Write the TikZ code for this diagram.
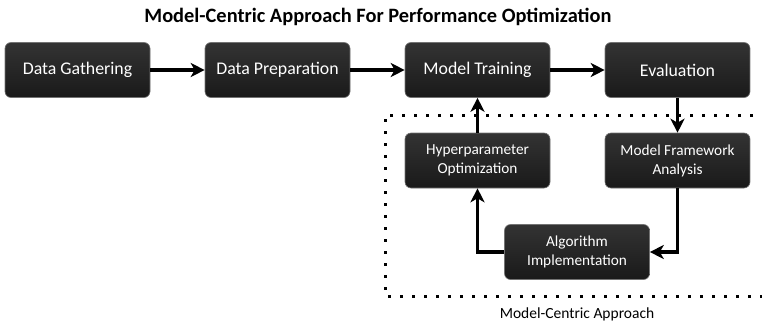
\documentclass[tikz,border=0pt]{standalone}
\usepackage{fontspec}
\setmainfont{Carlito}
\usetikzlibrary{arrows.meta}
\begin{document}
\begin{tikzpicture}[x=1pt,y=-1pt,
  stage/.style={rounded corners=6pt, draw=black!55, line width=0.6pt,
    top color=black!80, bottom color=black!90, text=white,
    minimum width=145pt, minimum height=55pt, inner sep=0pt,
    align=center, font=\fontsize{17.8}{20}\selectfont},
  substage/.style={stage, font=\fontsize{15.3}{19}\selectfont},
  flow/.style={line width=3.5pt, -{Stealth[length=14pt,width=14pt,inset=4pt]}}]
\useasboundingbox (0,0) rectangle (762,324);
% title
\node (title) at (378,17) {\fontsize{20.4}{22}\selectfont\bfseries Model-Centric Approach For Performance Optimization};
% main pipeline
\node[stage] (gather) at (77.5,70) {Data Gathering};
\node[stage] (prep) at (277.5,70) {Data Preparation};
\node[stage] (train) at (477.5,70) {Model Training};
\node[stage] (eval) at (677.5,70) {Evaluation};
% model-centric loop
\node[substage] (hyper) at (477.5,160.5) {Hyperparameter\\Optimization};
\node[substage] (frame) at (677.5,160.5) {Model Framework\\Analysis};
\node[substage] (algo) at (577,252) {Algorithm\\Implementation};
% dotted frame around the loop
\draw[line width=3pt, dash pattern=on 3pt off 9pt] (765,115) -- (385,115) -- (385,296) -- (765,296);
\node[font=\fontsize{15.5}{17}\selectfont] (looplabel) at (577,314) {Model-Centric Approach};
% connectors
\draw[flow] (gather) -- (prep);
\draw[flow] (prep) -- (train);
\draw[flow] (train) -- (eval);
\draw[flow] (eval) -- (frame);
\draw[flow] (frame.south) |- (algo.east);
\draw[flow] (algo.west) -| (hyper.south);
\draw[flow] (hyper) -- (train);
\end{tikzpicture}
\end{document}
